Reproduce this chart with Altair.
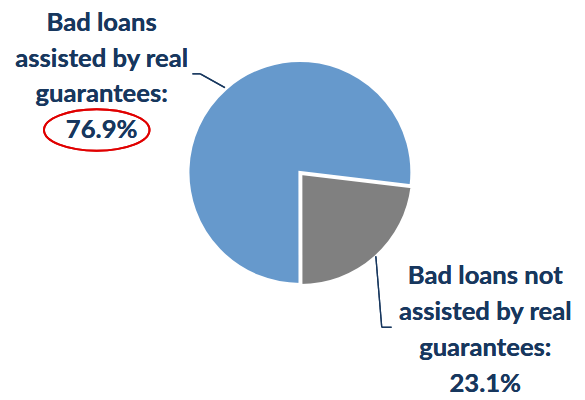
import altair as alt
import pandas as pd
import math

# data
categories = ["Bad loans not assisted by real guarantees", "Bad loans assisted by real guarantees"]
shares = [23.1, 76.9]
slice_colors = ["#808080", "#6699CC"]
order_idx = [0, 1]

label_blue = ["Bad loans", "assisted by real", "guarantees:", "76.9%"]
label_gray = ["Bad loans not", "assisted by real", "guarantees:", "23.1%"]

df = pd.DataFrame({"category": categories, "share": shares, "ord": order_idx})

NAVY = "#17375E"
FONT = "Lato"
FS = 26
start = math.radians(96.8)

theta = alt.Theta("share:Q", stack=True, scale=alt.Scale(range=[start, start + 2 * math.pi]))
color = alt.Color("category:N", scale=alt.Scale(domain=categories, range=slice_colors), legend=None)
order = alt.Order("ord:Q")

base = alt.Chart(df).mark_arc(outerRadius=113.5, stroke="white", strokeWidth=3)

blue_layer = base.encode(
    theta=theta, color=color, order=order,
    x=alt.value(296), y=alt.value(164),
    opacity=alt.condition(alt.datum.category == categories[1], alt.value(1), alt.value(0)),
)
gray_layer = base.encode(
    theta=theta, color=color, order=order,
    x=alt.value(297), y=alt.value(165),
    opacity=alt.condition(alt.datum.category == categories[0], alt.value(1), alt.value(0)),
)

txt_blue = alt.Chart(df).mark_text(
    text=label_blue, font=FONT, fontWeight="bold", fontSize=FS, color=NAVY,
    align="center", baseline="alphabetic", lineHeight=36,
).encode(x=alt.value(95), y=alt.value(21))

txt_gray = alt.Chart(df).mark_text(
    text=label_gray, font=FONT, fontWeight="bold", fontSize=FS, color=NAVY,
    align="center", baseline="alphabetic", lineHeight=36.5,
).encode(x=alt.value(484), y=alt.value(277))

ellipse = alt.Chart(df).mark_point(
    shape="M -1 0 A 1 0.393 0 1 0 1 0 A 1 0.393 0 1 0 -1 0 Z",
    size=11449, filled=False, stroke="#E00000", strokeWidth=2, opacity=1,
).encode(x=alt.value(90), y=alt.value(121))

def seg(x1, y1, x2, y2):
    return alt.Chart(df).mark_rule(color=NAVY, strokeWidth=1.3).encode(
        x=alt.value(x1), y=alt.value(y1), x2=alt.value(x2), y2=alt.value(y2))

leaders = [
    seg(187, 64, 195, 64), seg(195, 64, 220, 78),
    seg(373, 249, 379, 321), seg(379, 321, 389, 321),
]

chart = alt.layer(blue_layer, gray_layer, *leaders, txt_blue, txt_gray, ellipse).properties(
    width=577, height=392, padding=0, autosize=alt.AutoSizeParams(type="none"),
    background="white",
).configure_view(stroke=None)

chart.save("out.html", embed_options={"renderer": "svg", "actions": False})
